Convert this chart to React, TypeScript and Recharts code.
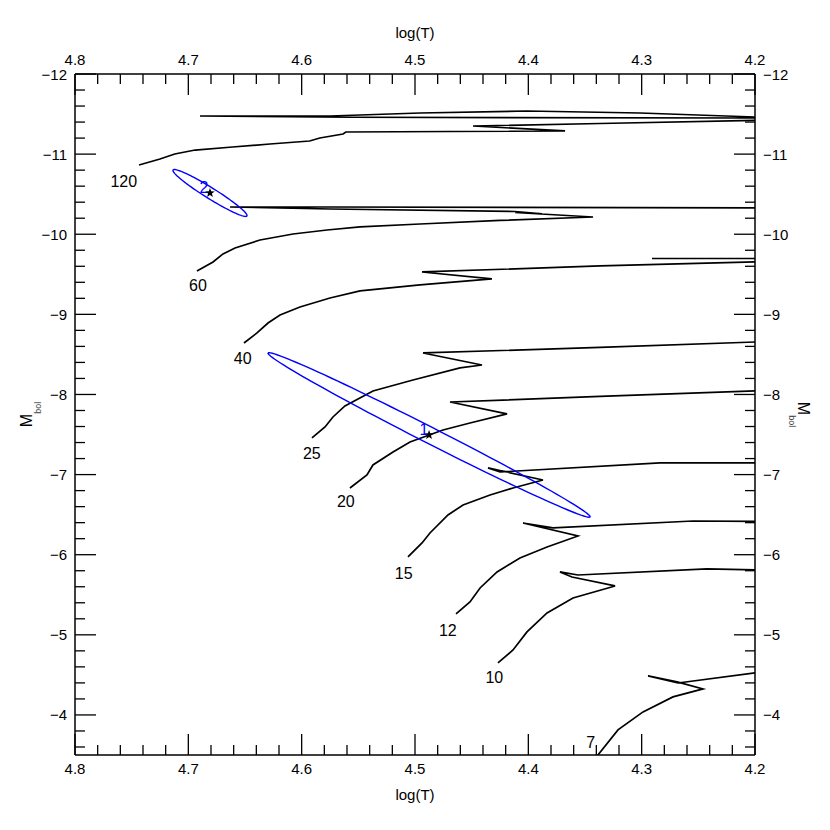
import { ComposedChart, Line, Scatter, XAxis, YAxis } from "recharts"

// evolutionary tracks, [log(T), M_bol], points beyond 4.2 / -3.5 run off the frame
const track120 = [
  [4.7435, -10.864], [4.725, -10.939], [4.712, -11.002], [4.694, -11.051], [4.661, -11.089],
  [4.628, -11.126], [4.593, -11.164], [4.584, -11.201], [4.5635, -11.251], [4.561, -11.276],
  [4.469, -11.282], [4.3676, -11.289], [4.4488, -11.351], [4.3368, -11.382], [4.2, -11.42],
  [4.15, -11.44], [4.2, -11.451], [4.5547, -11.46], [4.6897, -11.476], [4.575, -11.476],
  [4.4956, -11.513], [4.4012, -11.538], [4.3015, -11.513], [4.2, -11.463], [4.15, -11.45],
]
const track60 = [
  [4.6924, -9.541], [4.6782, -9.654], [4.6694, -9.754], [4.6588, -9.828], [4.6368, -9.928],
  [4.6076, -10.003], [4.5776, -10.053], [4.5485, -10.091], [4.4956, -10.128], [4.425, -10.172],
  [4.3429, -10.215], [4.4118, -10.271], [4.3879, -10.253], [4.4118, -10.284], [4.575, -10.315],
  [4.6632, -10.34], [4.575, -10.34], [4.2, -10.328], [4.15, -10.33],
]
const track40 = [
  [4.6509, -8.643], [4.6394, -8.768], [4.6297, -8.892], [4.6191, -8.992], [4.6015, -9.092],
  [4.575, -9.204], [4.5485, -9.292], [4.4956, -9.367], [4.4321, -9.442], [4.4938, -9.529],
  [4.3368, -9.604], [4.2, -9.654], [4.15, -9.68], [4.2, -9.697], [4.2909, -9.697],
]
const track25 = [
  [4.5909, -7.457], [4.5794, -7.594], [4.5724, -7.719], [4.5618, -7.857], [4.5371, -8.044],
  [4.5018, -8.181], [4.4603, -8.331], [4.4409, -8.368], [4.4929, -8.518], [4.3368, -8.587],
  [4.2, -8.655], [4.15, -8.68],
]
const track20 = [
  [4.5574, -6.833], [4.5424, -6.995], [4.5371, -7.12], [4.5194, -7.282], [4.5044, -7.407],
  [4.4753, -7.557], [4.4515, -7.644], [4.4188, -7.757], [4.4691, -7.906], [4.3368, -7.975],
  [4.2, -8.044], [4.15, -8.07],
]
const track15 = [
  [4.5062, -5.972], [4.4938, -6.147], [4.4868, -6.271], [4.4709, -6.496], [4.4576, -6.621],
  [4.4338, -6.746], [4.4135, -6.833], [4.3871, -6.933], [4.4356, -7.083], [4.425, -7.033],
  [4.2838, -7.145], [4.2, -7.145], [4.15, -7.15],
]
const track12 = [
  [4.4638, -5.261], [4.4515, -5.41], [4.4426, -5.585], [4.4276, -5.785], [4.4074, -5.96],
  [4.3835, -6.097], [4.3562, -6.234], [4.4047, -6.396], [4.3782, -6.334], [4.2547, -6.421],
  [4.2, -6.415], [4.15, -6.41],
]
const track10 = [
  [4.4268, -4.649], [4.4135, -4.811], [4.4012, -5.036], [4.3835, -5.273], [4.3606, -5.46],
  [4.3235, -5.61], [4.3615, -5.722], [4.3721, -5.785], [4.3562, -5.747], [4.2424, -5.822],
  [4.2, -5.81], [4.15, -5.81],
]
const track7 = [
  [4.3456, -3.376], [4.3209, -3.813], [4.2988, -4.038], [4.2724, -4.225], [4.2459, -4.325],
  [4.2688, -4.412], [4.2944, -4.487], [4.2679, -4.399], [4.2, -4.524], [4.15, -4.56],
]

const tracks = [track120, track60, track40, track25, track20, track15, track12, track10, track7]

// mass labels next to the ZAMS end of each track
const massLabels = ["120", "60", "40", "25", "20", "15", "12", "10", "7"]
const massLabelT = [4.757, 4.6915, 4.652, 4.591, 4.561, 4.51, 4.471, 4.43, 4.345]
const massLabelM = [-10.665, -9.367, -8.456, -7.27, -6.671, -5.772, -5.061, -4.474, -3.663]

// the two stars with their error ellipses
const starIds = ["1", "2"]
const starT = [4.4876, 4.6809]
const starM = [-7.495, -10.515]
const starIdT = [4.4921, 4.6862]
const starIdM = [-7.57, -10.59]
// half axes of the error ellipses in data units [dlogT, dMbol]
const ellipseMajor = [[0.1421, -1.023], [0.0326, -0.287]]
const ellipseMinor = [[0.0032, 0.09], [0.0025, 0.058]]

const xMajor = [4.8, 4.7, 4.6, 4.5, 4.4, 4.3, 4.2]
const yMajor = [-12, -11, -10, -9, -8, -7, -6, -5, -4]

const xTicks = Array.from({ length: 31 }, (_, i) => +(4.2 + i * 0.02).toFixed(2))
const yTicks = Array.from({ length: 43 }, (_, i) => +(-12 + i * 0.2).toFixed(1))

const AXIS_FONT = "'Liberation Sans Narrow', 'Liberation Sans', Arial, sans-serif"
const LABEL_FONT = "'Liberation Sans', Arial, sans-serif"

const toPts = (arr: number[][]) => arr.map(([t, m]) => ({ t, m }))

const ellipsePts = (i: number) => {
  const n = 120
  const [ax, ay] = ellipseMajor[i]
  const [bx, by] = ellipseMinor[i]
  return Array.from({ length: n + 1 }, (_, k) => {
    const a = (2 * Math.PI * k) / n
    return { t: starT[i] + ax * Math.cos(a) + bx * Math.sin(a), m: starM[i] + ay * Math.cos(a) + by * Math.sin(a) }
  })
}

const isMajorX = (v: number) => xMajor.some((m) => Math.abs(m - v) < 1e-6)
const isMajorY = (v: number) => yMajor.some((m) => Math.abs(m - v) < 1e-6)
const fmtY = (v: number) => (v < 0 ? "\u2212" + Math.abs(v) : String(v))

const xTick = (side: "top" | "bottom") => (props: any) => {
  const { x, y, payload } = props
  const v = payload.value as number
  const major = isMajorX(v)
  const dir = side === "top" ? 1 : -1
  return (
    <g>
      <line x1={x} x2={x} y1={y} y2={y + dir * (major ? 21 : 10)} stroke="#000" strokeWidth={1.3} />
      {major && (
        <text x={x} y={side === "top" ? y - 9 : y + 19} textAnchor="middle" fontSize={15} fontFamily={AXIS_FONT} fill="#000">
          {v.toFixed(1)}
        </text>
      )}
    </g>
  )
}

const yTick = (side: "left" | "right") => (props: any) => {
  const { x, y, payload } = props
  const v = payload.value as number
  const major = isMajorY(v)
  const dir = side === "left" ? 1 : -1
  return (
    <g>
      <line x1={x} x2={x + dir * (major ? 21 : 10)} y1={y} y2={y} stroke="#000" strokeWidth={1.3} />
      {major && (
        <text x={side === "left" ? x - 8 : x + 8} y={y + 5.5} textAnchor={side === "left" ? "end" : "start"} fontSize={15} fontFamily={AXIS_FONT} fill="#000">
          {fmtY(v)}
        </text>
      )}
    </g>
  )
}

const xTitle = (side: "top" | "bottom") => (props: any) => {
  const { x, y, width, height } = props.viewBox
  return (
    <text x={x + width / 2} y={side === "top" ? y + height - 36 : y + 45} textAnchor="middle" fontSize={15} fontFamily={AXIS_FONT} fill="#000">
      log(T)
    </text>
  )
}

const yTitle = (side: "left" | "right") => (props: any) => {
  const { y, height } = props.viewBox
  const cx = side === "left" ? 32 : 798
  const cy = y + height / 2
  return (
    <text transform={`translate(${cx},${cy}) rotate(${side === "left" ? -90 : 90})`} x={0} y={0} textAnchor="middle" fontFamily={AXIS_FONT} fill="#000">
      <tspan fontSize={16}>M</tspan>
      <tspan fontSize={9} dy={9} fill="#444">bol</tspan>
    </text>
  )
}

const starShape = (p: any) => {
  const { cx, cy } = p
  const pts: string[] = []
  for (let k = 0; k < 10; k++) {
    const r = k % 2 === 0 ? 5 : 2
    const a = -Math.PI / 2 + (k * Math.PI) / 5
    pts.push(`${cx + r * Math.cos(a)},${cy + r * Math.sin(a)}`)
  }
  return <polygon points={pts.join(" ")} fill="#000" />
}

const textShape = (color: string, size: number) => (p: any) => (
  <text x={p.cx} y={p.cy + size * 0.36} textAnchor="middle" fontSize={size} fontFamily={LABEL_FONT} fill={color}>
    {p.payload.label}
  </text>
)

export default function App() {
  const massPts = massLabels.map((label, i) => ({ t: massLabelT[i], m: massLabelM[i], label }))
  const starPts = starT.map((t, i) => ({ t, m: starM[i] }))
  const idPts = starIds.map((label, i) => ({ t: starIdT[i], m: starIdM[i], label }))

  return (
    <div style={{ position: "absolute", left: 0, top: 0, background: "#fff" }}>
      <ComposedChart width={830} height={830} margin={{ top: 0, right: 0, bottom: 0, left: 0 }}>
        <XAxis
          xAxisId="b"
          type="number"
          dataKey="t"
          domain={[4.2, 4.8]}
          reversed
          allowDataOverflow
          ticks={xTicks}
          interval={0}
          tickSize={0}
          tickMargin={0}
          tickLine={false}
          tick={xTick("bottom")}
          axisLine={{ stroke: "#000", strokeWidth: 1.5 }}
          height={75}
          label={xTitle("bottom")}
        />
        <XAxis
          xAxisId="t"
          orientation="top"
          type="number"
          dataKey="t"
          domain={[4.2, 4.8]}
          reversed
          allowDataOverflow
          ticks={xTicks}
          interval={0}
          tickSize={0}
          tickMargin={0}
          tickLine={false}
          tick={xTick("top")}
          axisLine={{ stroke: "#000", strokeWidth: 1.5 }}
          height={74}
          label={xTitle("top")}
        />
        <YAxis
          yAxisId="l"
          type="number"
          domain={[-12, -3.5]}
          reversed
          allowDataOverflow
          ticks={yTicks}
          interval={0}
          tickSize={0}
          tickMargin={0}
          tickLine={false}
          tick={yTick("left")}
          axisLine={{ stroke: "#000", strokeWidth: 1.5 }}
          width={75}
          label={yTitle("left")}
        />
        <YAxis
          yAxisId="r"
          orientation="right"
          type="number"
          domain={[-12, -3.5]}
          reversed
          allowDataOverflow
          ticks={yTicks}
          interval={0}
          tickSize={0}
          tickMargin={0}
          tickLine={false}
          tick={yTick("right")}
          axisLine={{ stroke: "#000", strokeWidth: 1.5 }}
          width={75}
          label={yTitle("right")}
        />
        {tracks.map((tr, i) => (
          <Line
            key={`track-${i}`}
            xAxisId="b"
            yAxisId="l"
            data={toPts(tr)}
            dataKey="m"
            type="linear"
            stroke="#000"
            strokeWidth={1.7}
            dot={false}
            activeDot={false}
            isAnimationActive={false}
          />
        ))}
        {starIds.map((id, i) => (
          <Line
            key={`ellipse-${id}`}
            xAxisId="b"
            yAxisId="l"
            data={ellipsePts(i)}
            dataKey="m"
            type="linear"
            stroke="#0000ff"
            strokeWidth={1.4}
            dot={false}
            activeDot={false}
            isAnimationActive={false}
          />
        ))}
        <Scatter xAxisId="b" yAxisId="l" data={massPts} dataKey="m" shape={textShape("#000", 16)} isAnimationActive={false} />
        <Scatter xAxisId="b" yAxisId="l" data={starPts} dataKey="m" shape={starShape} isAnimationActive={false} />
        <Scatter xAxisId="b" yAxisId="l" data={idPts} dataKey="m" shape={textShape("#0000ff", 16)} isAnimationActive={false} />
      </ComposedChart>
    </div>
  )
}
